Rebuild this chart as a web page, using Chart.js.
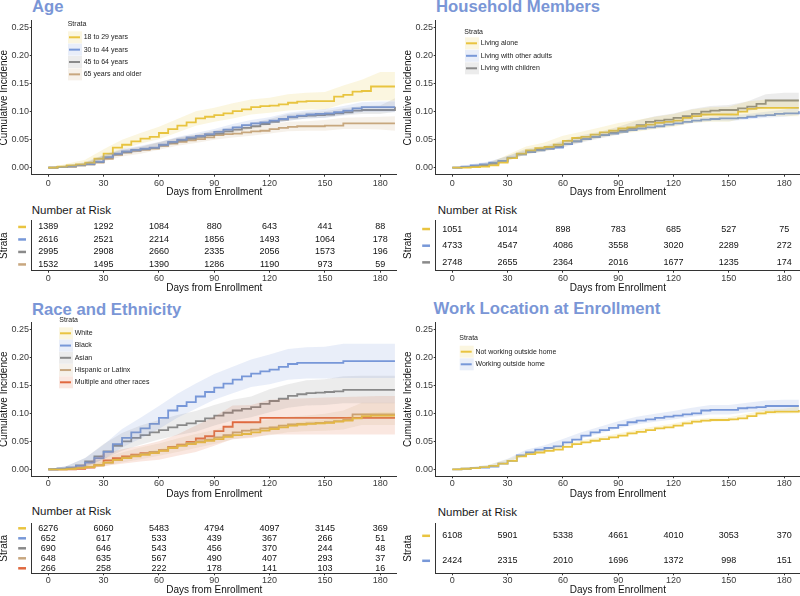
<!DOCTYPE html>
<html>
<head>
<meta charset="utf-8">
<script src="https://cdn.jsdelivr.net/npm/chart.js@4.4.0/dist/chart.umd.min.js"></script>
<style>
  body { margin: 0; background: #fff; }
  #wrap { position: relative; width: 800px; height: 596px; overflow: hidden; font-family: "Liberation Sans", Arial, sans-serif; }
  canvas { position: absolute; }
  .title { position: absolute; font-weight: bold; font-size: 16.7px; line-height: 17px; color: #7A96D6; white-space: nowrap; }
  .risk-title { position: absolute; font-size: 11.5px; line-height: 13px; color: #1a1a1a; white-space: nowrap; }
</style>
</head>
<body>
<div id="wrap">
  <div class="title" style="left:32px;top:-2px">Age</div>
  <div class="title" style="left:436px;top:-2px">Household Members</div>
  <div class="title" style="left:32px;top:300.7px">Race and Ethnicity</div>
  <div class="title" style="left:433.5px;top:300px">Work Location at Enrollment</div>

  <div class="risk-title" style="left:31.7px;top:203.5px">Number at Risk</div>
  <div class="risk-title" style="left:437.7px;top:203.5px">Number at Risk</div>
  <div class="risk-title" style="left:31.7px;top:505.3px">Number at Risk</div>
  <div class="risk-title" style="left:437.7px;top:505.8px">Number at Risk</div>

  <canvas id="ageCurve" width="400" height="200" style="left:0;top:0"></canvas>
  <canvas id="ageRisk" width="400" height="96" style="left:0;top:200px"></canvas>
  <canvas id="homeCurve" width="400" height="200" style="left:400px;top:0"></canvas>
  <canvas id="homeRisk" width="400" height="96" style="left:400px;top:200px"></canvas>
  <canvas id="raceCurve" width="400" height="200" style="left:0;top:300px"></canvas>
  <canvas id="raceRisk" width="400" height="96" style="left:0;top:500px"></canvas>
  <canvas id="workCurve" width="400" height="200" style="left:400px;top:300px"></canvas>
  <canvas id="workRisk" width="400" height="96" style="left:400px;top:500px"></canvas>
</div>
<script>
const DAYS = [0, 5, 10, 15, 20, 25, 30, 35, 40, 45, 50, 55, 60, 65, 70, 75, 80, 85, 90, 95, 100, 105, 110, 115, 120, 125, 130, 135, 140, 145, 150, 155, 160, 165, 170, 175, 180, 188];
const BAND_DAYS = [0, 10, 20, 30, 40, 50, 60, 70, 80, 90, 100, 110, 120, 130, 140, 150, 160, 170, 180, 188];
const X_TICKS = [0, 30, 60, 90, 120, 150, 180];
const Y_TICKS = [0, 0.05, 0.1, 0.15, 0.2, 0.25];

// Age
const age18 = [0,.002,.004,.006,.009,.016,.025,.036,.041,.047,.052,.055,.062,.069,.075,.081,.088,.091,.094,.097,.101,.104,.108,.110,.111,.113,.116,.118,.119,.119,.119,.127,.130,.136,.137,.145,.145,.145];
const age30 = [0,.001,.003,.005,.007,.011,.019,.025,.029,.032,.034,.036,.041,.046,.050,.054,.057,.060,.064,.068,.072,.076,.079,.081,.084,.087,.091,.093,.095,.096,.097,.099,.102,.106,.108,.108,.108,.108];
const age45 = [0,.001,.002,.004,.006,.010,.018,.024,.028,.031,.033,.035,.040,.045,.049,.052,.055,.058,.061,.065,.068,.071,.074,.078,.082,.086,.090,.092,.093,.094,.095,.097,.099,.102,.103,.103,.103,.109];
const age65 = [0,.001,.002,.004,.006,.009,.016,.023,.027,.030,.032,.034,.039,.043,.046,.049,.051,.054,.058,.060,.061,.063,.065,.066,.069,.071,.073,.074,.074,.074,.075,.075,.079,.079,.079,.079,.079,.079];
const age18Lo = [0,.002,.005,.017,.032,.043,.051,.063,.075,.082,.088,.095,.098,.102,.104,.104,.114,.119,.120,.120];
const age18Hi = [0,.007,.014,.033,.050,.062,.073,.087,.101,.107,.115,.122,.125,.131,.134,.135,.147,.157,.171,.171];
const age30Lo = [0,.001,.004,.015,.024,.029,.036,.045,.052,.059,.066,.073,.078,.084,.088,.089,.094,.099,.099,.099];
const age30Hi = [0,.005,.010,.023,.034,.039,.046,.055,.062,.069,.078,.085,.090,.098,.102,.105,.110,.117,.118,.118];
const age45Lo = [0,.001,.004,.014,.024,.029,.035,.044,.051,.057,.063,.069,.077,.084,.088,.089,.093,.096,.096,.100];
const age45Hi = [0,.004,.008,.022,.032,.037,.045,.054,.059,.066,.073,.080,.087,.096,.099,.101,.106,.110,.111,.124];
const age65Lo = [0,.001,.003,.011,.020,.025,.032,.039,.044,.050,.054,.057,.061,.065,.066,.066,.069,.069,.068,.066];
const age65Hi = [0,.004,.009,.022,.032,.038,.046,.053,.059,.066,.069,.073,.077,.082,.083,.085,.089,.090,.091,.092];
const riskAge18 = [1389, 1292, 1084, 880, 643, 441, 88];
const riskAge30 = [2616, 2521, 2214, 1856, 1493, 1064, 178];
const riskAge45 = [2995, 2908, 2660, 2335, 2056, 1573, 196];
const riskAge65 = [1532, 1495, 1390, 1286, 1190, 973, 59];

// Household members
const alone = [0,0,.001,.002,.004,.009,.017,.025,.031,.035,.037,.041,.048,.053,.055,.059,.063,.066,.070,.072,.074,.077,.080,.082,.084,.089,.092,.095,.095,.095,.095,.100,.105,.107,.107,.107,.107,.107];
const adults = [0,.002,.004,.006,.009,.012,.018,.024,.028,.031,.034,.036,.042,.047,.051,.055,.058,.061,.064,.067,.070,.072,.074,.077,.079,.082,.084,.086,.087,.088,.088,.089,.091,.093,.094,.096,.097,.101];
const children = [0,.001,.002,.004,.007,.011,.017,.024,.029,.032,.034,.037,.042,.047,.051,.055,.058,.062,.066,.070,.076,.082,.084,.086,.089,.092,.096,.100,.102,.103,.103,.106,.109,.114,.120,.120,.120,.120];
const aloneLo = [0,0,.002,.012,.024,.030,.039,.047,.054,.060,.064,.069,.073,.080,.082,.082,.090,.092,.092,.092];
const aloneHi = [0,.003,.008,.023,.038,.045,.057,.064,.072,.080,.085,.091,.096,.104,.108,.109,.118,.122,.122,.122];
const adultsLo = [0,.003,.007,.015,.025,.031,.038,.047,.054,.060,.066,.070,.075,.080,.083,.083,.086,.089,.091,.094];
const adultsHi = [0,.006,.011,.021,.031,.037,.046,.055,.062,.068,.074,.078,.083,.088,.091,.093,.096,.100,.104,.108];
const childrenLo = [0,.001,.004,.013,.024,.029,.036,.045,.052,.059,.068,.076,.081,.088,.094,.095,.101,.108,.108,.108];
const childrenHi = [0,.004,.010,.021,.034,.039,.048,.058,.064,.073,.084,.092,.097,.105,.110,.112,.118,.131,.134,.134];
const riskAlone = [1051, 1014, 898, 783, 685, 527, 75];
const riskAdults = [4733, 4547, 4086, 3558, 3020, 2289, 272];
const riskChildren = [2748, 2655, 2364, 2016, 1677, 1235, 174];

// Race and ethnicity
const white = [0,0,.001,.002,.004,.007,.012,.017,.020,.023,.026,.029,.033,.038,.042,.045,.048,.051,.054,.058,.061,.063,.066,.069,.072,.075,.078,.080,.081,.082,.083,.085,.087,.091,.095,.096,.096,.096];
const black = [0,.001,.003,.006,.012,.020,.031,.045,.056,.066,.073,.081,.092,.105,.113,.120,.130,.138,.146,.153,.160,.166,.171,.175,.178,.183,.188,.190,.190,.190,.190,.190,.193,.193,.193,.193,.193,.193];
const asian = [0,.001,.003,.007,.014,.023,.032,.042,.050,.056,.061,.066,.070,.075,.079,.082,.086,.091,.096,.101,.105,.108,.111,.117,.122,.126,.131,.134,.136,.137,.138,.139,.142,.142,.142,.142,.142,.142];
const hispanic = [0,0,.001,.002,.004,.008,.012,.017,.021,.025,.028,.031,.034,.039,.043,.047,.050,.053,.057,.061,.066,.069,.071,.073,.075,.078,.080,.081,.082,.083,.084,.086,.088,.098,.098,.098,.098,.098];
const multiple = [0,0,0,.001,.003,.007,.016,.020,.023,.026,.029,.031,.034,.040,.044,.049,.055,.059,.068,.076,.084,.084,.084,.092,.092,.092,.092,.092,.092,.092,.092,.092,.092,.092,.092,.092,.092,.092];
const whiteLo = [0,0,.003,.010,.018,.024,.031,.040,.046,.051,.058,.063,.069,.075,.078,.080,.084,.091,.092,.092];
const whiteHi = [0,.002,.006,.014,.023,.029,.036,.045,.051,.057,.065,.070,.076,.082,.086,.088,.092,.100,.102,.102];
const blackLo = [0,.001,.005,.018,.039,.055,.072,.092,.108,.124,.136,.147,.152,.160,.162,.162,.163,.163,.163,.163];
const blackHi = [0,.006,.020,.044,.072,.092,.113,.135,.153,.170,.183,.196,.205,.215,.218,.219,.224,.224,.224,.224];
const asianLo = [0,0,.004,.018,.033,.044,.053,.061,.067,.078,.087,.093,.102,.110,.114,.115,.118,.118,.118,.118];
const asianHi = [0,.006,.020,.045,.065,.078,.088,.097,.104,.115,.124,.130,.143,.152,.159,.161,.166,.167,.167,.167];
const hispanicLo = [0,0,.001,.005,.012,.018,.024,.031,.038,.045,.053,.058,.061,.066,.068,.069,.071,.079,.079,.079];
const hispanicHi = [0,.002,.008,.020,.030,.039,.046,.055,.063,.070,.080,.084,.089,.094,.096,.099,.105,.119,.119,.119];
const multipleLo = [0,0,0,.006,.010,.014,.017,.024,.031,.042,.054,.056,.062,.062,.062,.062,.062,.062,.062,.062];
const multipleHi = [0,.002,.010,.028,.036,.042,.050,.062,.078,.094,.114,.115,.124,.126,.127,.128,.129,.130,.131,.131];
const riskWhite = [6276, 6060, 5483, 4794, 4097, 3145, 369];
const riskBlack = [652, 617, 533, 439, 367, 266, 51];
const riskAsian = [690, 646, 543, 456, 370, 244, 48];
const riskHispanic = [648, 635, 567, 490, 407, 293, 37];
const riskMultiple = [266, 258, 222, 178, 141, 103, 16];

// Work location
const notWorking = [0,.001,.002,.004,.006,.010,.015,.023,.027,.030,.033,.035,.040,.045,.048,.051,.054,.057,.060,.064,.067,.070,.073,.075,.078,.082,.085,.087,.088,.088,.089,.091,.095,.100,.102,.103,.103,.106];
const working = [0,.001,.002,.003,.005,.010,.015,.025,.030,.035,.038,.041,.048,.053,.060,.066,.070,.074,.079,.084,.087,.089,.092,.094,.096,.098,.100,.105,.106,.106,.106,.109,.110,.111,.113,.113,.113,.113];
const notWorkingLo = [0,.001,.005,.013,.024,.030,.037,.045,.051,.057,.064,.070,.075,.082,.085,.086,.092,.098,.099,.100];
const notWorkingHi = [0,.003,.008,.018,.030,.036,.044,.052,.058,.064,.071,.077,.082,.089,.092,.093,.099,.107,.108,.112];
const workingLo = [0,.001,.003,.012,.026,.033,.043,.055,.064,.073,.080,.085,.089,.094,.098,.098,.102,.104,.104,.104];
const workingHi = [0,.004,.008,.019,.035,.043,.054,.066,.076,.086,.094,.099,.104,.110,.115,.115,.119,.123,.124,.124];
const riskNotWorking = [6108, 5901, 5338, 4661, 4010, 3053, 370];
const riskWorking = [2424, 2315, 2010, 1696, 1372, 998, 151];

const FONT = '"Liberation Sans", Arial, sans-serif';
const YELLOW = '#E9C440', BLUE = '#7898D8', GREY = '#8A8A8A', TAN = '#C8A77F', ORANGE = '#E0683F';
const AXIS = '#333333', TICK_TEXT = '#3a3a3a';

Chart.defaults.font.family = FONT;

const fade = (hex, a) => {
    const n = parseInt(hex.slice(1), 16);
    return `rgba(${n >> 16}, ${(n >> 8) & 255}, ${n & 255}, ${a})`;
};

const toPoints = (xs, ys) => xs.map((x, i) => ({ x, y: ys[i] }));

const topRow = { curve: { padT: 20.7, xH: 25.3, tickPad: 1.9, titlePad: 3 }, risk: { padT: 20.7, xH: 25.3, tickPad: 0.2, titlePad: 2.7 } };
const bottomRow = { curve: { padT: 22.3, xH: 23.7, tickPad: 0, titlePad: 1 }, risk: { padT: 23.3, xH: 22.7, tickPad: 0, titlePad: 0.3 } };
const leftCol = { yW: 31.7, padR: 3.2, xMax: 189, yTitlePad: -1 };
const rightCol = { yW: 35.7, padR: 0, xMax: 188.6, yTitlePad: 2.8 };

const panels = [
    {
        curveId: 'ageCurve', riskId: 'ageRisk', ...leftCol, ...topRow,
        legend: { x: 67.7, y: 24, keyX: 69, first: 37.3, step: 12.35 },
        strata: [
            { label: '18 to 29 years', color: YELLOW, line: age18, lo: age18Lo, hi: age18Hi, risk: riskAge18 },
            { label: '30 to 44 years', color: BLUE, line: age30, lo: age30Lo, hi: age30Hi, risk: riskAge30 },
            { label: '45 to 64 years', color: GREY, line: age45, lo: age45Lo, hi: age45Hi, risk: riskAge45 },
            { label: '65 years and older', color: TAN, line: age65, lo: age65Lo, hi: age65Hi, risk: riskAge65 }
        ]
    },
    {
        curveId: 'homeCurve', riskId: 'homeRisk', ...rightCol, ...topRow,
        legend: { x: 64.3, y: 31.7, keyX: 66, first: 43.3, step: 12.5 },
        strata: [
            { label: 'Living alone', color: YELLOW, line: alone, lo: aloneLo, hi: aloneHi, risk: riskAlone },
            { label: 'Living with other adults', color: BLUE, line: adults, lo: adultsLo, hi: adultsHi, risk: riskAdults },
            { label: 'Living with children', color: GREY, line: children, lo: childrenLo, hi: childrenHi, risk: riskChildren }
        ]
    },
    {
        curveId: 'raceCurve', riskId: 'raceRisk', ...leftCol, ...bottomRow,
        legend: { x: 59.3, y: 20, keyX: 60, first: 33.3, step: 12.25 },
        strata: [
            { label: 'White', color: YELLOW, line: white, lo: whiteLo, hi: whiteHi, risk: riskWhite },
            { label: 'Black', color: BLUE, line: black, lo: blackLo, hi: blackHi, risk: riskBlack },
            { label: 'Asian', color: GREY, line: asian, lo: asianLo, hi: asianHi, risk: riskAsian },
            { label: 'Hispanic or Latinx', color: TAN, line: hispanic, lo: hispanicLo, hi: hispanicHi, risk: riskHispanic },
            { label: 'Multiple and other races', color: ORANGE, line: multiple, lo: multipleLo, hi: multipleHi, risk: riskMultiple }
        ]
    },
    {
        curveId: 'workCurve', riskId: 'workRisk', ...rightCol, ...bottomRow,
        legend: { x: 59.3, y: 38.3, keyX: 60.7, first: 51.7, step: 12.6 },
        strata: [
            { label: 'Not working outside home', color: YELLOW, line: notWorking, lo: notWorkingLo, hi: notWorkingHi, risk: riskNotWorking },
            { label: 'Working outside home', color: BLUE, line: working, lo: workingLo, hi: workingHi, risk: riskWorking }
        ]
    }
];

// legend drawn inside the plot, like the ggplot one
const legendPlugin = (p) => ({
    id: 'strataLegend',
    afterDraw(chart) {
        const ctx = chart.ctx;
        const lg = p.legend;
        ctx.save();
        ctx.font = `7px ${FONT}`;
        ctx.textBaseline = 'middle';
        ctx.fillStyle = '#222';
        ctx.fillText('Strata', lg.x, lg.y);
        p.strata.forEach((s, i) => {
            const y = lg.first + lg.step * i;
            ctx.fillStyle = fade(s.color, 0.16);
            ctx.fillRect(lg.keyX - 1, y - 6, 14, 12);
            ctx.strokeStyle = s.color;
            ctx.lineWidth = 2;
            ctx.beginPath();
            ctx.moveTo(lg.keyX, y);
            ctx.lineTo(lg.keyX + 11, y);
            ctx.stroke();
            ctx.fillStyle = '#222';
            ctx.fillText(s.label, lg.keyX + 14.7, y);
        });
        ctx.restore();
    }
});

// numbers at risk, placed at the scatter points
const riskPlugin = {
    id: 'riskText',
    afterDatasetsDraw(chart) {
        const { ctx, chartArea, scales } = chart;
        ctx.save();
        ctx.font = `9px ${FONT}`;
        ctx.textAlign = 'center';
        ctx.textBaseline = 'middle';
        chart.data.datasets.forEach((ds, i) => {
            ctx.fillStyle = '#111';
            chart.getDatasetMeta(i).data.forEach((pt, j) => ctx.fillText(String(ds.data[j].n), pt.x, pt.y));
            const y = scales.y.getPixelForValue(i + 1);
            ctx.strokeStyle = ds.borderColor;
            ctx.lineWidth = 2.5;
            ctx.beginPath();
            ctx.moveTo(chartArea.left - 13.5, y);
            ctx.lineTo(chartArea.left - 5.7, y);
            ctx.stroke();
        });
        ctx.restore();
    }
};

const xAxis = (p, c) => ({
    type: 'linear',
    min: -9,
    max: p.xMax,
    afterBuildTicks: (s) => { s.ticks = X_TICKS.map(v => ({ value: v })); },
    afterFit: (s) => { s.height = c.xH; },
    grid: { display: true, drawOnChartArea: false, drawTicks: true, tickLength: 2, color: AXIS },
    border: { display: true, color: AXIS, width: 1 },
    ticks: { font: { size: 9 }, color: TICK_TEXT, padding: c.tickPad, maxRotation: 0, autoSkip: false },
    title: { display: true, text: 'Days from Enrollment', color: '#111', font: { size: 10, lineHeight: 1 }, padding: { top: 0, bottom: c.titlePad } }
});

const curveChart = (p) => {
    const bands = [];
    const lines = [];
    p.strata.forEach(s => {
        bands.push({ data: toPoints(BAND_DAYS, s.lo), borderWidth: 0, borderColor: 'transparent', pointRadius: 0, fill: false });
        bands.push({ data: toPoints(BAND_DAYS, s.hi), borderWidth: 0, borderColor: 'transparent', pointRadius: 0, fill: '-1', backgroundColor: fade(s.color, 0.16) });
        lines.push({ data: toPoints(DAYS, s.line), borderColor: s.color, borderWidth: 1.8, pointRadius: 0, stepped: true, fill: false });
    });
    new Chart(document.getElementById(p.curveId), {
        type: 'line',
        data: { datasets: [...bands, ...lines] },
        options: {
            responsive: false,
            animation: false,
            layout: { padding: { top: p.curve.padT, right: p.padR, left: 0, bottom: 0 } },
            plugins: { legend: { display: false }, tooltip: { enabled: false } },
            scales: {
                x: xAxis(p, p.curve),
                y: {
                    type: 'linear',
                    min: -0.0125,
                    max: 0.2625,
                    afterBuildTicks: (s) => { s.ticks = Y_TICKS.map(v => ({ value: v })); },
                    afterFit: (s) => { s.width = p.yW; },
                    grid: { display: true, drawOnChartArea: false, drawTicks: true, tickLength: 2, color: AXIS },
                    border: { display: true, color: AXIS, width: 1 },
                    ticks: { font: { size: 9 }, color: TICK_TEXT, padding: 0.6, callback: v => v.toFixed(2) },
                    title: { display: true, text: 'Cumulative Incidence', color: '#111', font: { size: 10, lineHeight: 1 }, padding: { top: p.yTitlePad, bottom: 0 } }
                }
            }
        },
        plugins: [legendPlugin(p)]
    });
};

const riskChart = (p) => {
    const datasets = p.strata.map((s, i) => ({
        data: X_TICKS.map((d, j) => ({ x: d, y: i + 1, n: s.risk[j] })),
        borderColor: s.color,
        backgroundColor: s.color,
        pointRadius: 0,
        showLine: false
    }));
    new Chart(document.getElementById(p.riskId), {
        type: 'scatter',
        data: { datasets },
        options: {
            responsive: false,
            animation: false,
            layout: { padding: { top: p.risk.padT, right: p.padR, left: 0, bottom: 0 } },
            plugins: { legend: { display: false }, tooltip: { enabled: false } },
            scales: {
                x: xAxis(p, p.risk),
                y: {
                    type: 'linear',
                    min: 0.5,
                    max: p.strata.length + 0.5,
                    reverse: true,
                    afterFit: (s) => { s.width = p.yW; },
                    grid: { display: false },
                    border: { display: true, color: AXIS, width: 1 },
                    ticks: { display: false },
                    title: { display: true, text: 'Strata', color: '#111', font: { size: 10, lineHeight: 1 }, padding: { top: p.yTitlePad, bottom: 0 } }
                }
            }
        },
        plugins: [riskPlugin]
    });
};

panels.forEach(p => {
    curveChart(p);
    riskChart(p);
});
</script>
</body>
</html>
